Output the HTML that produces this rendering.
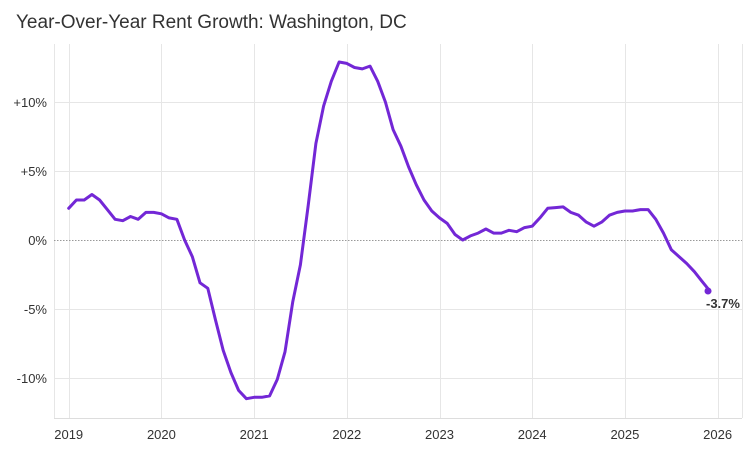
<!DOCTYPE html>
<html><head><meta charset="utf-8"><style>
body{margin:0;background:#fff;width:752px;height:451px;overflow:hidden;font-family:"Liberation Sans",sans-serif}
</style></head><body>
<svg width="752" height="451" xmlns="http://www.w3.org/2000/svg" font-family="Liberation Sans, sans-serif">
<text x="16" y="28" font-size="19" fill="#333">Year-Over-Year Rent Growth: Washington, DC</text>
<g id="grid" stroke="#e6e6e6" stroke-width="1"></g>
<line x1="54" y1="240.5" x2="742" y2="240.5" stroke="#999" stroke-dasharray="1.5,1.5"/>
<line x1="54" y1="418.5" x2="742" y2="418.5" stroke="#ddd"/>
<g id="labels" font-size="13" fill="#333"></g>
<polyline id="line" fill="none" stroke="#7327d6" stroke-width="3" stroke-linejoin="round" stroke-linecap="round"/>
<circle cx="708" cy="291" r="3.5" fill="#7327d6"/>
<text x="706" y="308" font-size="13" font-weight="bold" fill="#333">-3.7%</text>
</svg>
<script>
var X=function(t){return 68.7+(t-2019)*92.7},Y=function(v){return 240-v*13.8};
var g=document.getElementById('grid'),L=document.getElementById('labels'),ns='http://www.w3.org/2000/svg',s='';
for(var y=2019;y<=2026;y++){var x=Math.round(X(y))+.5;s+='<line x1="'+x+'" y1="44" x2="'+x+'" y2="418"/>';}
s+='<line x1="54.5" y1="44" x2="54.5" y2="418"/><line x1="742.5" y1="44" x2="742.5" y2="418"/>';
[10,5,-5,-10].forEach(function(v){var yy=Math.round(Y(v))+.5;s+='<line x1="54" y1="'+yy+'" x2="742" y2="'+yy+'"/>';});
g.innerHTML=s;
var t='';
[[10,'+10%'],[5,'+5%'],[0,'0%'],[-5,'-5%'],[-10,'-10%']].forEach(function(a){t+='<text x="47" y="'+(Y(a[0])+5)+'" text-anchor="end">'+a[1]+'</text>';});
for(var y=2019;y<=2026;y++)t+='<text x="'+X(y)+'" y="439" text-anchor="middle">'+y+'</text>';
L.innerHTML=t;
var d=[2.3,2.9,2.9,3.3,2.9,2.2,1.5,1.4,1.7,1.5,2.0,2.0,1.9,1.6,1.5,0,-1.2,-3.1,-3.5,-5.8,-8.0,-9.6,-10.9,-11.5,-11.4,-11.4,-11.3,-10.1,-8.1,-4.5,-1.8,2.5,7.0,9.7,11.5,12.9,12.8,12.5,12.4,12.6,11.5,10.0,8.0,6.8,5.3,4.0,2.9,2.1,1.6,1.2,0.4,0,0.3,0.5,0.8,0.5,0.5,0.7,0.6,0.9,1.0,1.6,2.3,2.35,2.4,2.0,1.8,1.3,1.0,1.3,1.8,2.0,2.1,2.1,2.2,2.2,1.5,0.5,-0.7,-1.2,-1.7,-2.3,-3.0,-3.7];
document.getElementById('line').setAttribute('points',d.map(function(v,i){return X(2019+i/12).toFixed(1)+','+Y(v).toFixed(1)}).join(' '));
</script>
</body></html>
